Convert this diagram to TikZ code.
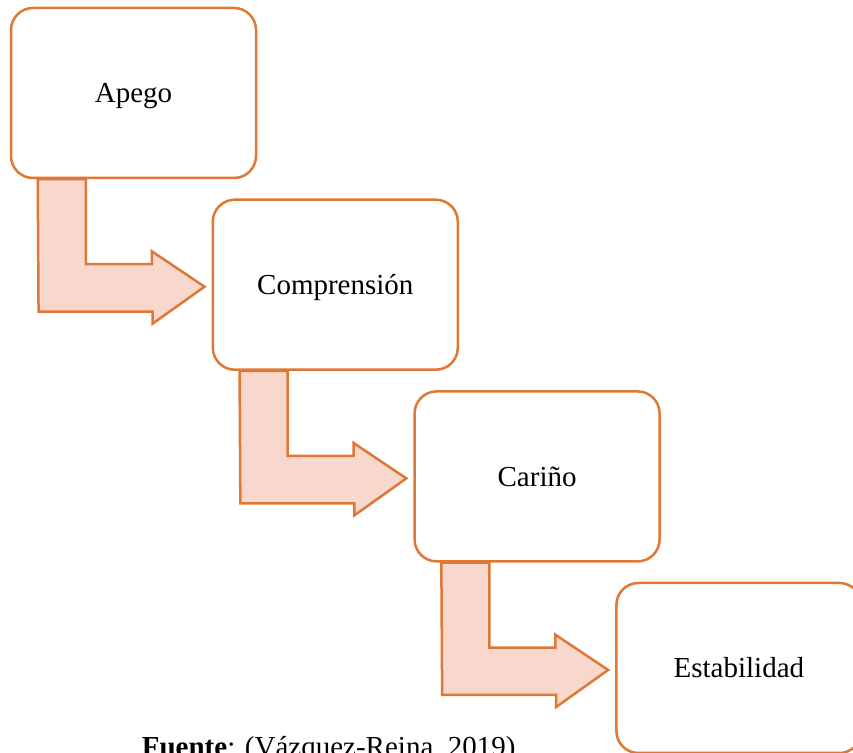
\documentclass[tikz,border=0pt]{standalone}
\usepackage{fontspec}
\setmainfont{Liberation Serif}
\usetikzlibrary{calc}
\definecolor{accentline}{RGB}{222,120,52}
\definecolor{accentfill}{RGB}{248,216,204}
\begin{document}
\begin{tikzpicture}[x=0.5pt,y=-0.5pt,line join=miter]
  \tikzstyle{stage}=[draw=accentline,line width=1.25pt,rounded corners=11pt,fill=white,
    minimum width=122.5pt,minimum height=85pt,text height=10pt,text depth=0pt,
    font=\fontsize{14.5}{17}\selectfont]
  \tikzstyle{bentarrow}=[draw=accentline,line width=1.25pt,fill=accentfill]
  \useasboundingbox (0,0) rectangle (853,753);
  \node[stage] (S_1) at (133.5,93)  {Apego};
  \node[stage] (S_2) at (335.3,284.7) {Comprensión};
  \node[stage] (S_3) at (537.1,476.4) {Cariño};
  \node[stage] (S_4) at (738.9,668)  {Estabilidad};
  \draw[bentarrow] ($(S_1.south west)+(28,0)$) -- ++(48,0) -- ++(0,85) -- ++(66,0) -- ++(0,-13)
    -- ($(S_2.west)+(-7,2)$) -- ++(-52,37) -- ++(0,-12) -- ++(-114,0) -- cycle;
  \draw[bentarrow] ($(S_2.south west)+(28,0)$) -- ++(48,0) -- ++(0,85) -- ++(66,0) -- ++(0,-13)
    -- ($(S_3.west)+(-7,2)$) -- ++(-52,37) -- ++(0,-12) -- ++(-114,0) -- cycle;
  \draw[bentarrow] ($(S_3.south west)+(28,0)$) -- ++(48,0) -- ++(0,85) -- ++(66,0) -- ++(0,-13)
    -- ($(S_4.west)+(-7,2)$) -- ++(-52,37) -- ++(0,-12) -- ++(-114,0) -- cycle;
  \node[anchor=base west,inner sep=0pt,font=\fontsize{14.5}{17}\selectfont] (src) at (141.5,757)
    {\textbf{Fuente}: (Vázquez-Reina, 2019)};
\end{tikzpicture}
\end{document}
